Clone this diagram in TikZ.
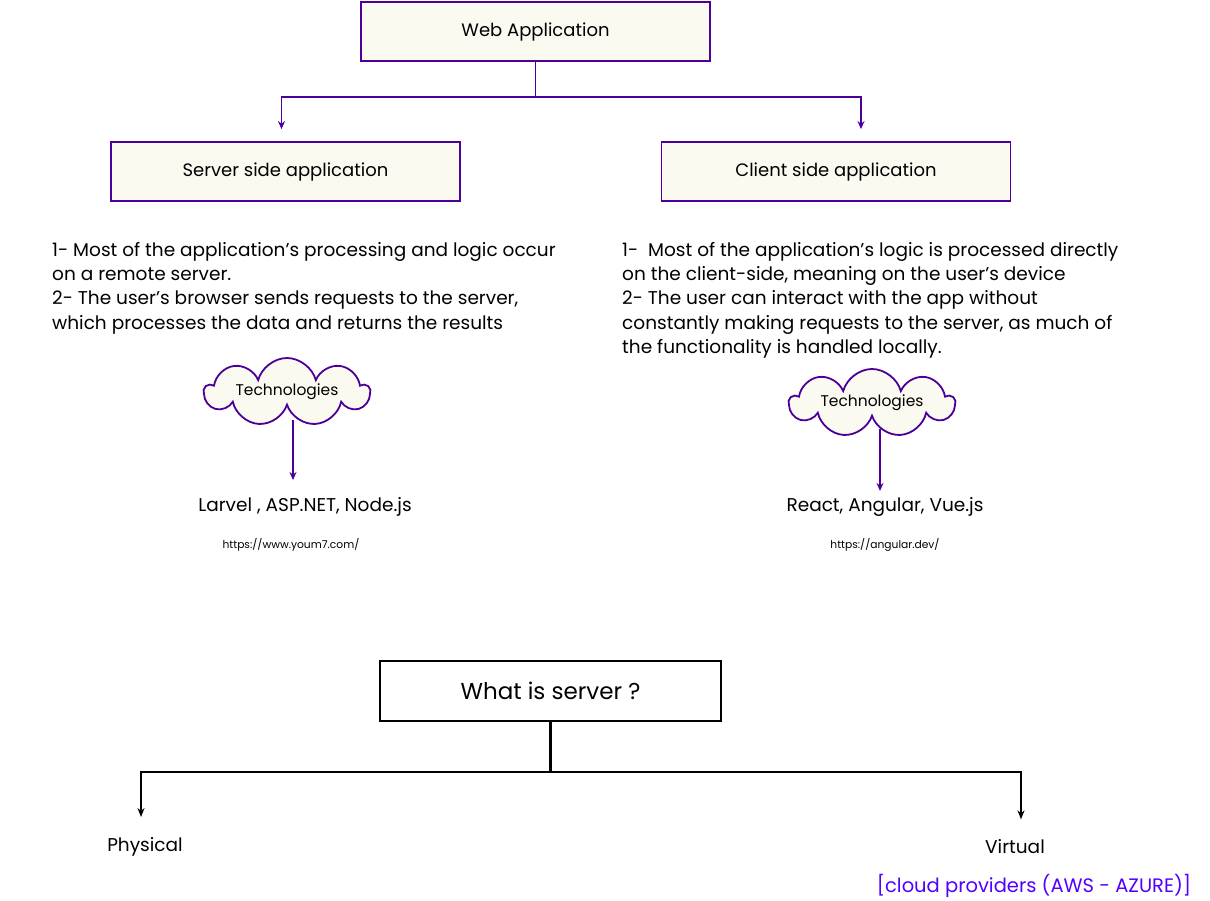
\documentclass[tikz,border=0pt]{standalone}
\usepackage{fontspec}
\setmainfont{Poppins}
\usetikzlibrary{positioning, arrows.meta, shapes.symbols}
\definecolor{appviolet}{HTML}{4C0099}
\definecolor{paper}{HTML}{FBFAF1}
\definecolor{cloudblue}{HTML}{5200FF}

\begin{document}
\begin{tikzpicture}[
			x=1pt, y=-1pt,
			appbox/.style={rectangle, draw=appviolet, fill=paper, line width=1.8pt,
				minimum width=349pt, minimum height=59pt, font=\fontsize{18}{20}\selectfont},
			serverbox/.style={rectangle, draw=black, fill=white, line width=1.6pt,
				minimum width=341pt, minimum height=60pt, font=\fontsize{23}{25}\selectfont},
			techcloud/.style={cloud, cloud puffs=9, cloud ignores aspect, draw=appviolet, fill=paper,
				line width=1.8pt, minimum width=165pt, minimum height=68pt, inner sep=0pt,
				font=\fontsize{15.5}{17}\selectfont},
			desc/.style={anchor=north west, align=left, inner sep=0pt,
				font=\fontsize{18.5}{24.3}\selectfont},
			stack/.style={font=\fontsize{18.5}{20}\selectfont},
			link/.style={font=\fontsize{10.7}{12}\selectfont},
			arrow/.style={-{Stealth[length=8pt, width=7pt]}, line width=1.6pt, color=appviolet},
			blackarrow/.style={-{Stealth[length=9pt, width=7pt]}, line width=2.4pt, color=black}
			]
			\useasboundingbox (0,0) rectangle (1210,901);
			
			% Web application and its two sides
			\node[appbox] (web) at (535.5,31.5) {Web Application};
			\node[appbox] (server) at (285.5,171.5) {Server side application};
			\node[appbox] (client) at (836,171.5) {Client side application};
			
			\draw[arrow, shorten >=12pt] (web.south) -- ++(0,35) -| ([xshift=-4pt]server.north);
			\draw[arrow, shorten >=12pt] (web.south) -- ++(0,35) -| ([xshift=25pt]client.north);
			
			% Descriptions
			\node[desc] (serverdesc) at (52,242) {1- Most of the application's processing and logic occur\\
				on a remote server.\\
				2- The user's browser sends requests to the server,\\
				which processes the data and returns the results};
			\node[desc] (clientdesc) at (622,242) {1-\ \ Most of the application's logic is processed directly\\
				on the client-side, meaning on the user's device\\
				2- The user can interact with the app without\\
				constantly making requests to the server, as much of\\
				the functionality is handled locally.};
			
			% Technologies
			\node[techcloud] (servertech) at (287,392) {Technologies};
			\node[techcloud] (clienttech) at (872,403) {Technologies};
			\node[stack] (serverstack) at (305,507) {Larvel , ASP.NET, Node.js};
			\node[stack] (clientstack) at (885,507) {React, Angular, Vue.js};
			\node[link] (serverlink) at (291,545) {https://www.youm7.com/};
			\node[link] (clientlink) at (885,545) {https://angular.dev/};
			
			\draw[arrow, shorten <=13pt, shorten >=14pt] ([xshift=6pt]servertech.south) -- ([xshift=6pt]servertech.south |- serverstack.north);
			\draw[arrow, shorten <=11pt, shorten >=3pt] ([xshift=8pt]clienttech.south) -- ([xshift=8pt]clienttech.south |- clientstack.north);
			
			% What is server ?
			\node[serverbox] (what) at (550.5,691) {What is server ?};
			\node[stack] (physical) at (145,847) {Physical};
			\node[stack] (virtual) at (1015,847) {Virtual};
			\node[stack, font=\fontsize{19.5}{21}\selectfont, text=cloudblue] (cloud) at (1034,886) {[cloud providers (AWS - AZURE)]};
			
			\draw[blackarrow, shorten >=17pt] (what.south) -- ++(0,50) -| ([xshift=-4pt]physical.north);
			\draw[blackarrow, shorten >=17pt] (what.south) -- ++(0,50) -| ([xshift=6pt]virtual.north);
			
		\end{tikzpicture}
\end{document}
